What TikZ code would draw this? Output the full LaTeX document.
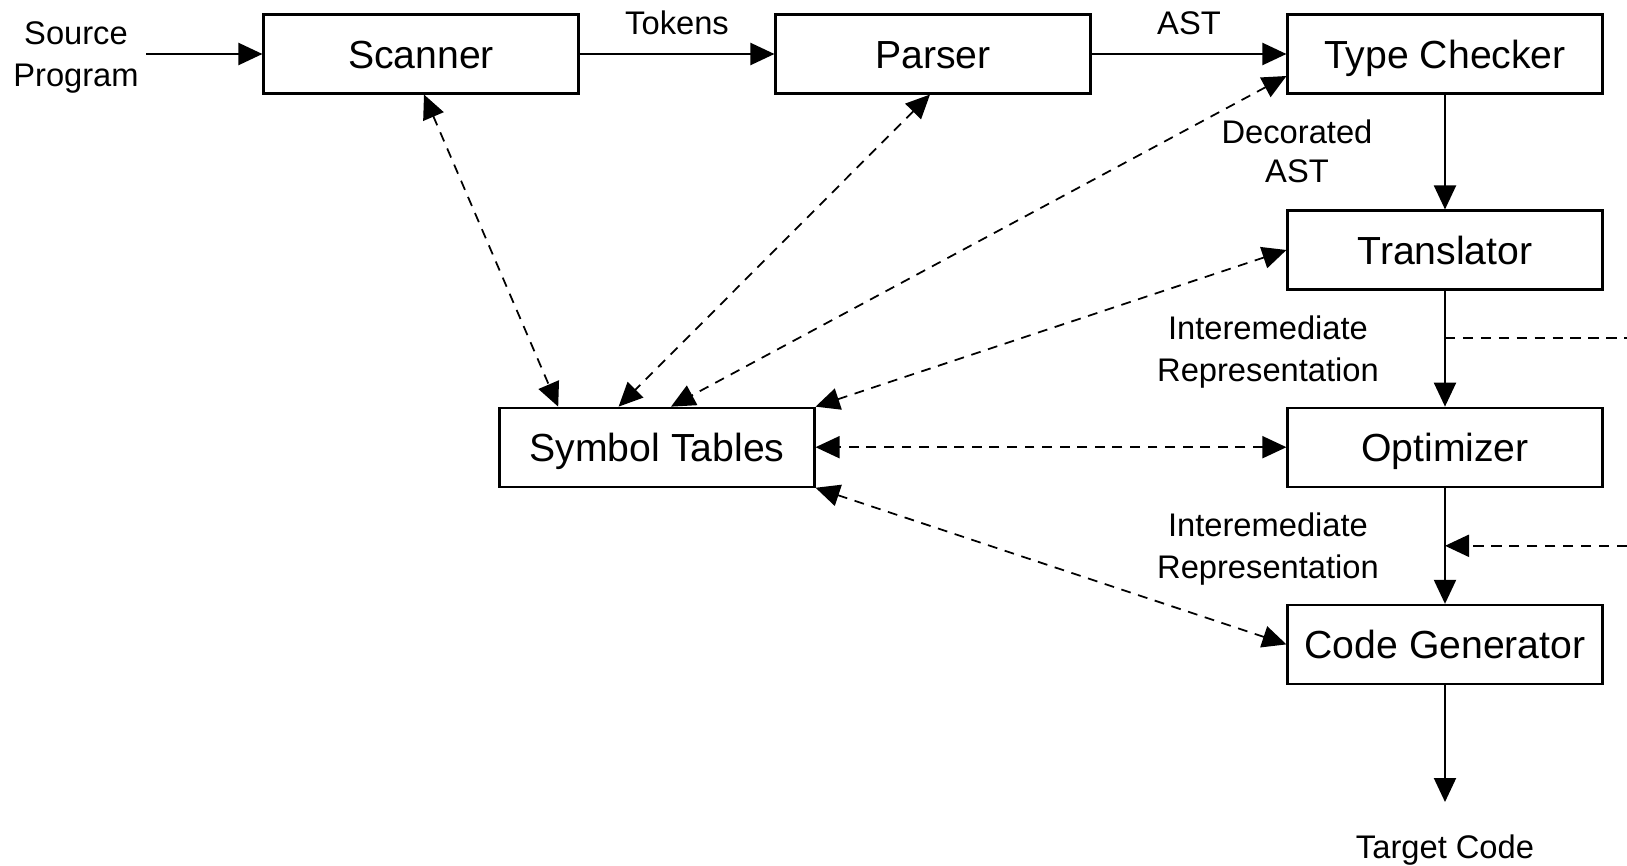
\documentclass[tikz,border=0pt]{standalone}
\usepackage{fontspec}
\setmainfont{Liberation Sans}
\usetikzlibrary{arrows.meta,positioning}
\tikzset{
    stage/.style={draw, line width=0.6pt, minimum width=3.15cm, minimum height=0.79cm,
                  inner sep=0pt, text height=10pt, text depth=2pt,
                  font=\fontsize{11.15}{13}\selectfont},
    lbl/.style={align=center, inner sep=0pt, font=\fontsize{9.3}{12.1}\selectfont},
    flow/.style={-{Triangle[length=2.4mm,width=2.2mm]}, line width=0.6pt},
    link/.style={{Triangle[length=2.4mm,width=2.2mm]}-{Triangle[length=2.4mm,width=2.2mm]},
                 line width=0.5pt, dash pattern=on 2.8pt off 2.2pt},
    side/.style={line width=0.6pt, dash pattern=on 2.9pt off 2.2pt}
}

\begin{document}
\begin{tikzpicture}
    \useasboundingbox (0,0) rectangle (16.27,-8.66);
    \node[lbl, inner sep=2pt] (src) at (0.76,-0.575) {Source\\Program};
    \node[stage] (scan) at (4.21,-0.54) {Scanner};
    \node[stage] (pars) at (9.33,-0.54) {Parser};
    \node[stage] (tc) at (14.45,-0.54) {Type Checker};
    \node[stage] (tr) at (14.45,-2.50) {Translator};
    \node[stage] (opt) at (14.45,-4.472) {Optimizer};
    \node[stage] (cg) at (14.45,-6.444) {Code Generator};
    \node[stage] (sym) at (6.57,-4.472) {Symbol Tables};
    \node[lbl] (out) at (14.45,-8.50) {Target Code};
    \coordinate (outtip) at (14.45,-8.02);
    \coordinate (irout) at (16.27,-3.383);
    \coordinate (irin) at (16.27,-5.458);

    \draw[flow] (src.east |- scan) -- (scan.west);
    \draw[flow] (scan) -- node[lbl, above=0.18cm] (tok) {Tokens} (pars);
    \draw[flow] (pars) -- node[lbl, above=0.18cm] (ast) {AST} (tc);
    \foreach \a/\b in {tc/tr,tr/opt,opt/cg}
    \draw[flow] (\a) -- (\b);
    \draw[flow] (cg) -- (outtip);
    \node[lbl, font=\fontsize{9.3}{11.2}\selectfont] (dec) at (12.97,-1.515) {Decorated\\AST};
    \node[lbl] (ir1) at (12.68,-3.52) {Interemediate\\Representation};
    \node[lbl] (ir2) at (12.68,-5.49) {Interemediate\\Representation};
    \draw[side] (irout -| tr.south) -- (irout);
    \draw[side, -{Triangle[length=2.4mm,width=2.2mm]}] (irin) -- (irin -| opt.south);

    \draw[link] ([xshift=0.3mm]scan.south) -- ([xshift=-9.88mm]sym.north);
    \draw[link] ([xshift=-0.3mm]pars.south) -- ([xshift=-3.84mm]sym.north);
    \draw[link] ([yshift=-2.2mm]tc.west) -- ([xshift=1.4mm]sym.north);
    \draw[link] (tr.west) -- (sym.north east);
    \draw[link] (opt.west) -- (sym.east);
    \draw[link] (cg.west) -- (sym.south east);
\end{tikzpicture}
\end{document}
